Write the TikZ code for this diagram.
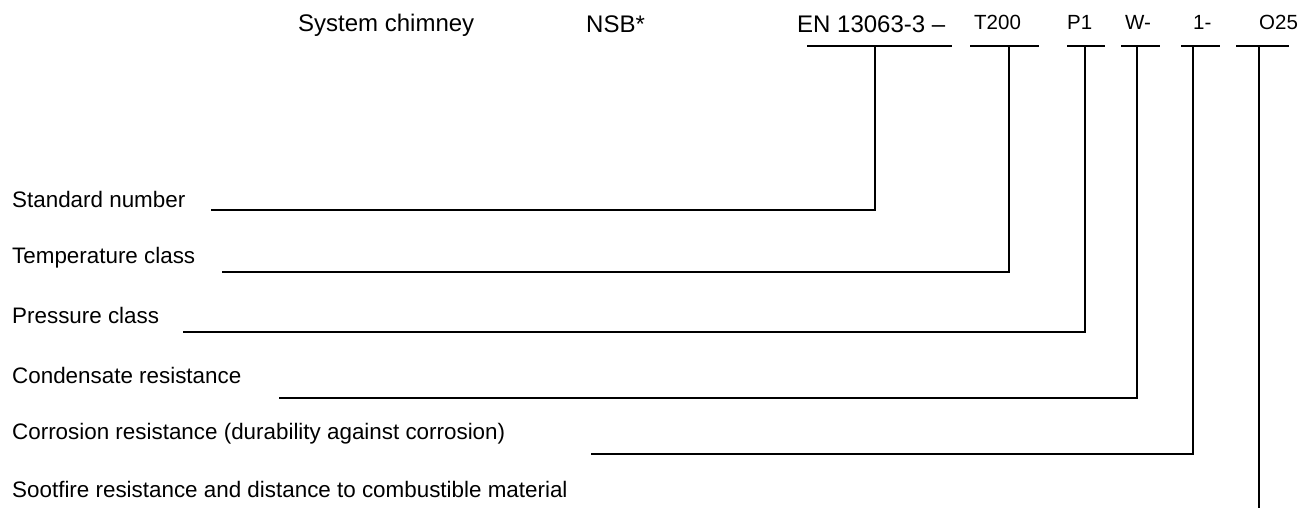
\documentclass[tikz,border=0pt]{standalone}
\usepackage{fontspec}
\setmainfont{Liberation Sans}
\tikzset{
  head/.style={anchor=base west, inner sep=0pt, font=\fontsize{24}{28}\selectfont},
  code/.style={anchor=base west, inner sep=0pt, font=\fontsize{20.5}{24}\selectfont},
  label/.style={anchor=base west, inner sep=0pt, font=\fontsize{22.4}{26}\selectfont},
  lead/.style={line width=1.6pt}
}
\begin{document}
\begin{tikzpicture}[x=1pt, y=-1pt]
            \useasboundingbox (0,0) rectangle (1303,508);
            % designation
            \node[head] (sys) at (298,32) {System chimney};
            \node[head] (nsb) at (586,33) {NSB*};
            \node[head] (en) at (797,33) {EN 13063-3 --};
            \node[code] (temp) at (974,30) {T200};
            \node[code] (pres) at (1067,30) {P1};
            \node[code] (cond) at (1125,30) {W-};
            \node[code] (corr) at (1193,30) {1-};
            \node[code] (soot) at (1259,30) {O25};
            % explanations
            \node[label] (lstd) at (12,207) {Standard number};
            \node[label] (ltemp) at (12,263) {Temperature class};
            \node[label] (lpres) at (12,323) {Pressure class};
            \node[label] (lcond) at (12,383) {Condensate resistance};
            \node[label] (lcorr) at (12,439) {Corrosion resistance (durability against corrosion)};
            \node[label] (lsoot) at (12,497) {Sootfire resistance and distance to combustible material};
            % bars under the designation
            \draw[lead] (807,46) -- (952,46);
            \draw[lead] (970,46) -- (1039,46);
            \draw[lead] (1067,46) -- (1105,46);
            \draw[lead] (1121,46) -- (1160,46);
            \draw[lead] (1181,46) -- (1220,46);
            \draw[lead] (1236,46) -- (1289,46);
            \coordinate (ben) at (875,46);
            \coordinate (btemp) at (1009,46);
            \coordinate (bpres) at (1085,46);
            \coordinate (bcond) at (1137,46);
            \coordinate (bcorr) at (1193,46);
            \coordinate (bsoot) at (1259,46);
            \coordinate (estd) at (211,210);
            \coordinate (etemp) at (222,272);
            \coordinate (epres) at (183,332);
            \coordinate (econd) at (279,398);
            \coordinate (ecorr) at (591,454);
            \coordinate (esoot) at (1259,508);
            % leaders
            \draw[lead] (ben) |- (estd);
            \draw[lead] (btemp) |- (etemp);
            \draw[lead] (bpres) |- (epres);
            \draw[lead] (bcond) |- (econd);
            \draw[lead] (bcorr) |- (ecorr);
            \draw[lead] (bsoot) -- (esoot);
        \end{tikzpicture}
\end{document}
